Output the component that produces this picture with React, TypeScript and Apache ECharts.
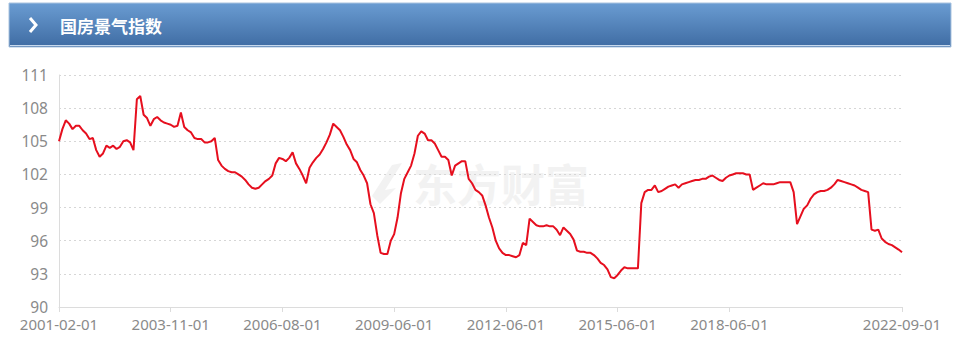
import React, { useEffect, useRef } from "react";
import * as echarts from "echarts";

const titleText = "国房景气指数";
const watermarkText = "东方财富";
const firstMonth = "2001-02";
const lastMonth = "2022-09";
const skippedMonths = [
  "2009-01", "2010-01", "2011-01", "2012-01", "2013-01",
  "2014-01", "2015-01", "2016-01", "2017-01", "2018-01",
];
const yMin = 90;
const yMax = 111;
const yStep = 3;
const labelEvery = 33;
const lastRegularLabel = 198;

const indexValues = [
  105.0, 106.1, 106.9, 106.6, 106.1, 106.4, 106.4, 106.0, 105.7, 105.2,
  105.3, 104.2, 103.6, 103.9, 104.6, 104.4, 104.6, 104.3, 104.5, 105.0,
  105.1, 104.9, 104.2, 108.8, 109.1, 107.4, 107.1, 106.4, 107.0, 107.2,
  106.9, 106.7, 106.6, 106.5, 106.3, 106.4, 107.6, 106.3, 106.0, 105.8,
  105.3, 105.2, 105.2, 104.9, 104.9, 105.0, 105.3, 103.3, 102.8, 102.5,
  102.3, 102.2, 102.2, 102.0, 101.8, 101.5, 101.1, 100.8, 100.7, 100.8,
  101.1, 101.4, 101.6, 101.9, 103.0, 103.5, 103.4, 103.2, 103.5, 104.0,
  103.0, 102.5, 101.9, 101.2, 102.6, 103.1, 103.5, 103.8, 104.3, 104.9,
  105.6, 106.6, 106.3, 106.0, 105.4, 104.7, 104.2, 103.4, 103.1, 102.4,
  101.9, 101.2, 99.3, 98.5, 96.5, 94.9, 94.8, 94.8, 96.0, 96.6,
  98.1, 100.3, 101.6, 102.2, 102.8, 103.9, 105.5, 105.9, 105.7, 105.1,
  105.1, 104.8, 104.2, 103.6, 103.6, 103.3, 101.9, 102.8, 103.0, 103.2,
  103.2, 101.6, 101.2, 100.6, 100.4, 100.1, 99.2, 98.1, 97.2, 96.0,
  95.3, 94.9, 94.7, 94.7, 94.6, 94.5, 94.7, 95.8, 95.6, 98.0,
  97.7, 97.4, 97.3, 97.3, 97.4, 97.3, 97.3, 97.0, 96.5, 97.2,
  96.9, 96.6, 96.1, 95.1, 95.0, 95.0, 94.9, 94.9, 94.7, 94.4,
  94.0, 93.8, 93.4, 92.7, 92.6, 92.9, 93.3, 93.6, 93.5, 93.5,
  93.5, 93.5, 99.4, 100.4, 100.6, 100.6, 101.0, 100.4, 100.5, 100.7,
  100.9, 101.0, 101.1, 100.8, 101.1, 101.2, 101.3, 101.4, 101.5, 101.5,
  101.6, 101.6, 101.8, 101.9, 101.7, 101.5, 101.4, 101.7, 101.9, 102.0,
  102.1, 102.1, 102.1, 102.0, 102.0, 100.6, 100.8, 101.0, 101.2, 101.1,
  101.1, 101.1, 101.2, 101.3, 101.3, 101.3, 101.3, 100.4, 97.5, 98.2,
  98.9, 99.2, 99.8, 100.2, 100.4, 100.5, 100.5, 100.6, 100.8, 101.1,
  101.5, 101.4, 101.3, 101.2, 101.1, 101.0, 100.8, 100.6, 100.5, 100.4,
  97.0, 96.9, 97.0, 96.2, 95.9, 95.7, 95.6, 95.4, 95.2, 94.95,
];

function buildCategories(): string[] {
  const out: string[] = [];
  let [y, m] = firstMonth.split("-").map(Number);
  const [ey, em] = lastMonth.split("-").map(Number);
  while (y < ey || (y === ey && m <= em)) {
    const key = `${y}-${String(m).padStart(2, "0")}`;
    if (!skippedMonths.includes(key)) out.push(`${key}-01`);
    m += 1;
    if (m > 12) {
      m = 1;
      y += 1;
    }
  }
  return out;
}

export default function App() {
  const ref = useRef<HTMLDivElement>(null);

  useEffect(() => {
    document.body.style.margin = "0";
    if (!ref.current) return;
    const chart = echarts.init(ref.current, undefined, { renderer: "svg" });
    const categories = buildCategories();
    const lastIdx = categories.length - 1;
    const showIdx = (i: number) =>
      (i % labelEvery === 0 && i <= lastRegularLabel) || i === lastIdx;

    chart.setOption({
      animation: false,
      backgroundColor: "#ffffff",
      grid: { left: 59, right: 58, top: 75, bottom: 35 },
      xAxis: {
        type: "category",
        boundaryGap: false,
        data: categories,
        axisLine: { lineStyle: { color: "#dcdcdc", width: 1 } },
        axisTick: {
          show: true,
          interval: (i: number) => showIdx(i),
          length: 5,
          lineStyle: { color: "#dcdcdc" },
        },
        axisLabel: {
          interval: (i: number) => showIdx(i),
          showMaxLabel: true,
          color: "#8a8a8a",
          fontSize: 15,
          fontFamily: "Noto Sans",
          margin: 9,
        },
        splitLine: { show: false },
      },
      yAxis: {
        type: "value",
        min: yMin,
        max: yMax,
        interval: yStep,
        axisLine: { show: true, lineStyle: { color: "#dcdcdc" } },
        axisTick: { show: false },
        axisLabel: {
          color: "#8a8a8a",
          fontSize: 15.5,
          fontFamily: "Noto Sans",
          margin: 11,
        },
        splitLine: {
          show: true,
          lineStyle: { color: "#d6d6d6", type: [2, 3], width: 1 },
        },
      },
      graphic: [
        {
          type: "rect",
          shape: { x: 9, y: 3, width: 942, height: 44 },
          style: {
            fill: {
              type: "linear",
              x: 0, y: 0, x2: 0, y2: 1,
              colorStops: [
                { offset: 0, color: "#6a9cd2" },
                { offset: 1, color: "#3f6ca3" },
              ],
            },
            stroke: "#a9c3df",
            lineWidth: 1,
          },
          z: 10,
        },
        {
          type: "line",
          shape: { x1: 10, y1: 45.5, x2: 950, y2: 45.5 },
          style: { stroke: "#c8daee", lineWidth: 1 },
          z: 11,
        },
        {
          type: "polyline",
          shape: { points: [[30, 18], [36, 25], [30, 32]] },
          style: { stroke: "#ffffff", lineWidth: 3, fill: "none" },
          z: 12,
        },
        {
          type: "text",
          x: 60,
          y: 25,
          style: {
            text: titleText,
            fill: "#ffffff",
            fontSize: 17,
            fontWeight: "bold",
            fontFamily: "Noto Sans CJK SC",
            verticalAlign: "middle",
            textAlign: "left",
          },
          z: 12,
        },
        {
          type: "polygon",
          shape: { points: [[372, 196], [392, 165], [402, 163], [385, 190], [396, 188], [380, 204]] },
          style: { fill: "#f2f2f2" },
          z: -10,
        },
        {
          type: "text",
          x: 413,
          y: 183,
          style: {
            text: watermarkText,
            fill: "#f2f2f2",
            fontSize: 44,
            fontWeight: "bold",
            fontFamily: "Noto Sans CJK SC",
            verticalAlign: "middle",
            textAlign: "left",
          },
          z: -10,
        },
      ],
      series: [
        {
          type: "line",
          data: indexValues,
          showSymbol: false,
          symbol: "none",
          lineStyle: { color: "#e60f1e", width: 2 },
          itemStyle: { color: "#e60f1e" },
          z: 5,
        },
      ],
    });

    return () => {
      chart.dispose();
    };
  }, []);

  return <div ref={ref} style={{ width: 960, height: 342 }} />;
}
